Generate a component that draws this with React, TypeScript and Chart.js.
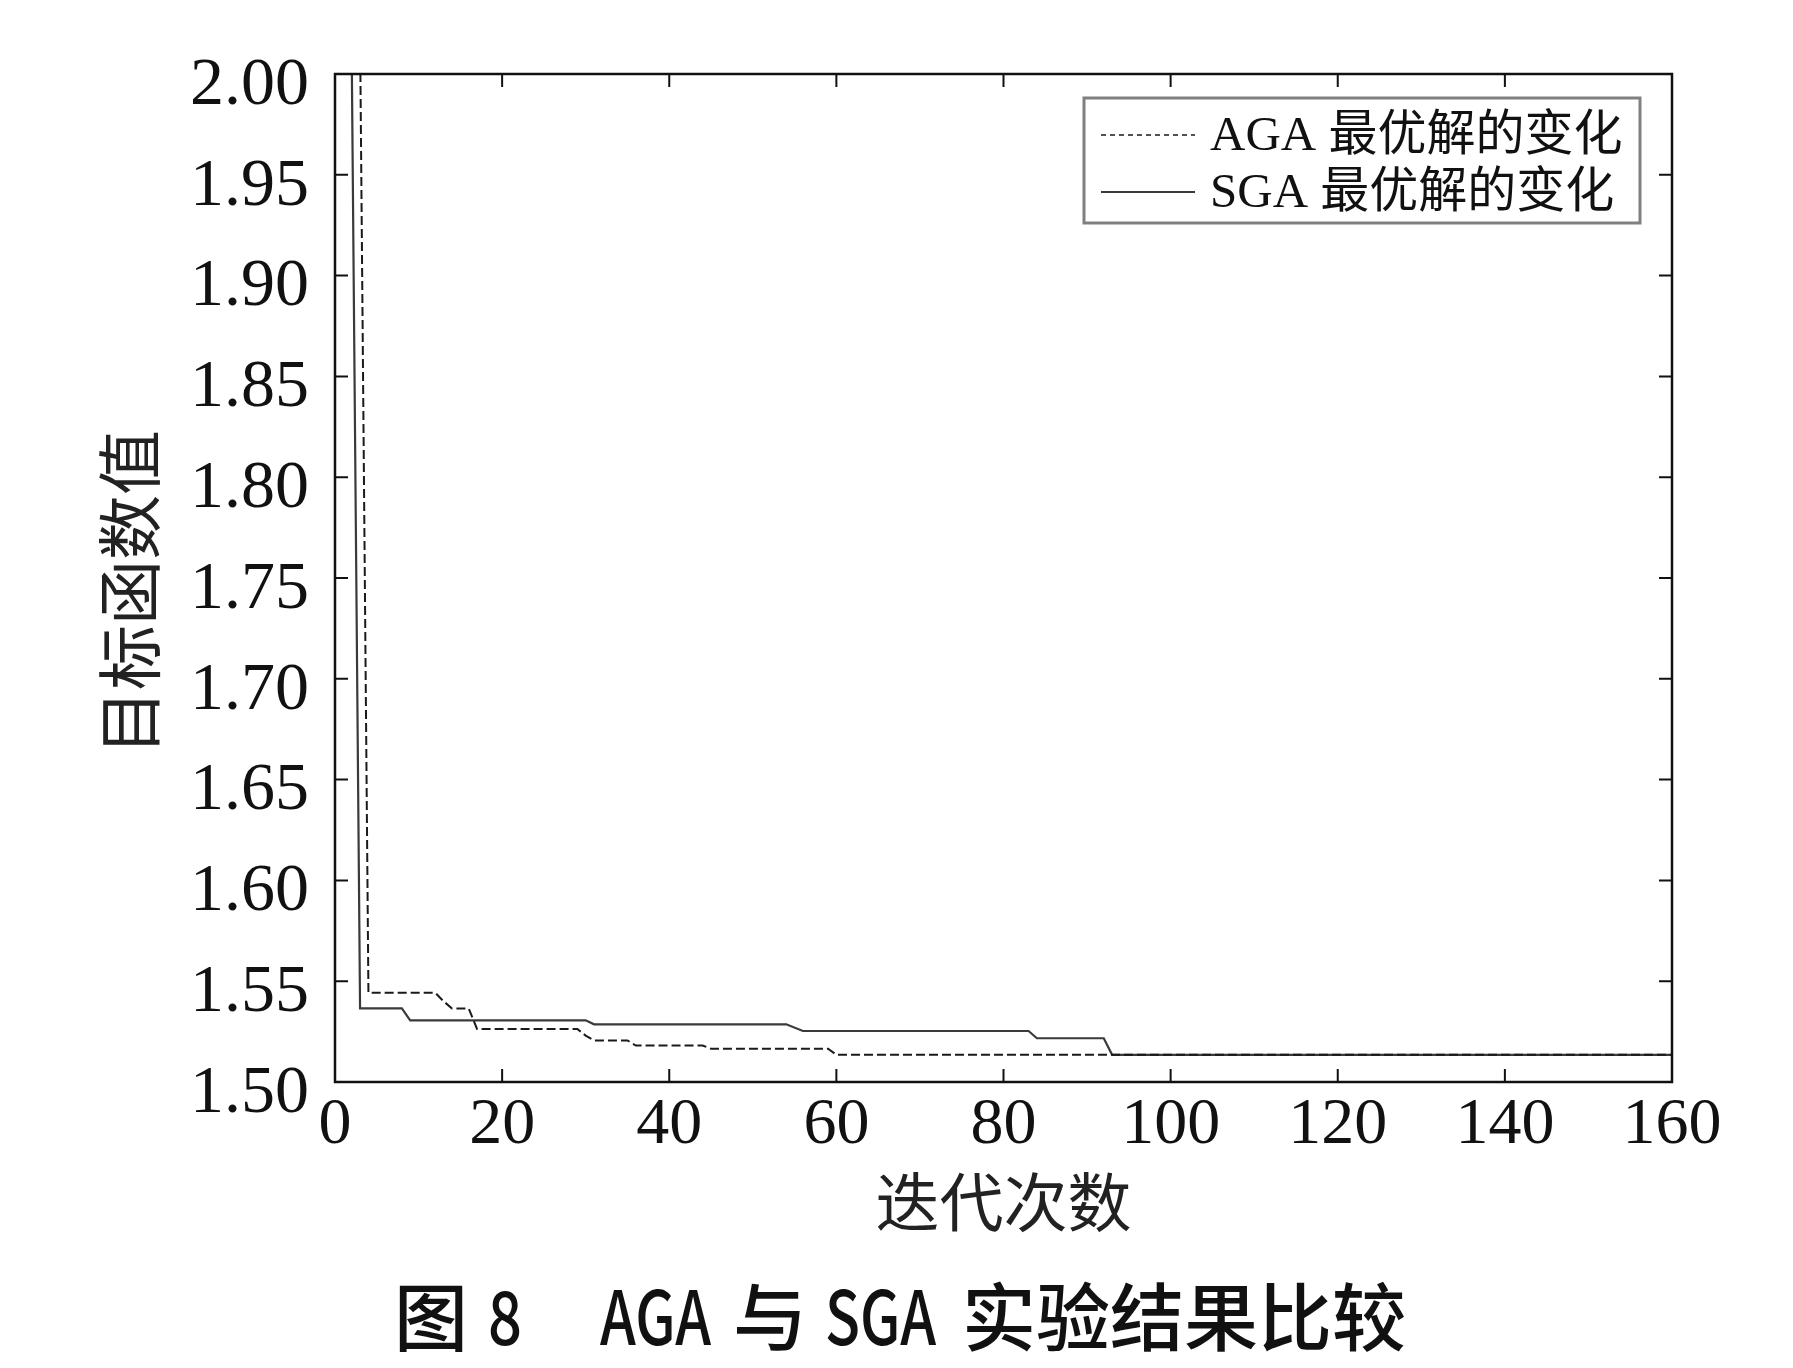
import React, { useEffect, useRef } from 'react';
import { Chart, registerables } from 'chart.js';

Chart.register(...registerables);

// ---- data ----
const sgaIter = [1, 2, 3, 8, 9, 30, 31, 54, 56, 83, 84, 92, 93, 160];
const sgaValue = [3.0, 2.01, 1.5365, 1.5365, 1.5306, 1.5306, 1.5286, 1.5286, 1.5253, 1.5253, 1.5217, 1.5217, 1.5135, 1.5135];

const agaIter = [2, 3, 4, 12, 13, 14, 16, 17, 29, 30, 31, 35, 36, 44, 45, 59, 60, 160];
const agaValue = [3.0, 2.02, 1.5443, 1.5443, 1.54, 1.5365, 1.5365, 1.5263, 1.5263, 1.523, 1.5206, 1.5206, 1.5181, 1.5181, 1.5165, 1.5165, 1.5135, 1.5135];

const xTicks = [0, 20, 40, 60, 80, 100, 120, 140, 160];
const xTickLabels = ['0', '20', '40', '60', '80', '100', '120', '140', '160'];
const yTicks = [1.5, 1.55, 1.6, 1.65, 1.7, 1.75, 1.8, 1.85, 1.9, 1.95, 2.0];
const yTickLabels = ['1.50', '1.55', '1.60', '1.65', '1.70', '1.75', '1.80', '1.85', '1.90', '1.95', '2.00'];

const seriesLabels = ['AGA 最优解的变化', 'SGA 最优解的变化'];
const xTitle = '迭代次数';
const yTitle = '目标函数值';
const captionParts = ['图', '8', 'AGA', '与', 'SGA', '实验结果比较'];

const W = 1793;
const H = 1368;

const frameAndTicks = {
  id: 'frameAndTicks',
  afterDatasetsDraw(chart: any) {
    const { ctx, chartArea } = chart;
    const { left, right, top, bottom } = chartArea;
    const xs = chart.scales.x;
    const ys = chart.scales.y;
    const tl = 13;
    ctx.save();
    ctx.strokeStyle = '#111';
    ctx.lineWidth = 2;
    ctx.beginPath();
    xs.ticks.forEach((t: any) => {
      const px = xs.getPixelForValue(t.value);
      if (Math.abs(px - left) < 2 || Math.abs(px - right) < 2) return;
      ctx.moveTo(px, bottom);
      ctx.lineTo(px, bottom - tl);
      ctx.moveTo(px, top);
      ctx.lineTo(px, top + tl);
    });
    ys.ticks.forEach((t: any) => {
      const py = ys.getPixelForValue(t.value);
      if (Math.abs(py - top) < 2 || Math.abs(py - bottom) < 2) return;
      ctx.moveTo(left, py);
      ctx.lineTo(left + tl, py);
      ctx.moveTo(right, py);
      ctx.lineTo(right - tl, py);
    });
    ctx.stroke();
    ctx.lineWidth = 2.5;
    ctx.strokeRect(left, top, right - left, bottom - top);
    ctx.restore();
  },
};

const legendBox = {
  id: 'legendBox',
  afterDraw(chart: any) {
    const { ctx } = chart;
    const bx = 1084, by = 98, bw = 556, bh = 125;
    ctx.save();
    ctx.fillStyle = '#fff';
    ctx.fillRect(bx, by, bw, bh);
    ctx.strokeStyle = '#808080';
    ctx.lineWidth = 3;
    ctx.strokeRect(bx, by, bw, bh);
    const rows = [135, 192];
    chart.data.datasets.forEach((ds: any, i: number) => {
      const y = rows[i];
      ctx.beginPath();
      ctx.strokeStyle = ds.borderColor;
      ctx.lineWidth = i === 0 ? 1.5 : 1.8;
      ctx.setLineDash(i === 0 ? [5, 4] : []);
      ctx.moveTo(1101, y);
      ctx.lineTo(1195, y);
      ctx.stroke();
      ctx.setLineDash([]);
      ctx.fillStyle = '#111';
      ctx.font = "49px 'Liberation Serif', 'Noto Sans CJK SC'";
      ctx.textBaseline = 'middle';
      ctx.textAlign = 'left';
      ctx.fillText(ds.label, 1210, y + 2);
    });
    ctx.restore();
  },
};

const caption = {
  id: 'caption',
  afterDraw(chart: any) {
    const { ctx } = chart;
    const cy = 1317;
    // [x, target width (0 = natural)]
    const layout: [number, number][] = [
      [394, 0],
      [488, 34],
      [600, 111],
      [733, 0],
      [825, 111],
      [962, 0],
    ];
    ctx.save();
    ctx.fillStyle = '#111';
    ctx.font = "500 74px 'Noto Sans CJK SC'";
    ctx.textBaseline = 'middle';
    ctx.textAlign = 'left';
    captionParts.forEach((txt, i) => {
      const [x, w] = layout[i];
      if (w > 0) {
        const m = ctx.measureText(txt).width;
        ctx.save();
        ctx.translate(x, cy);
        ctx.scale(w / m, 1);
        ctx.fillText(txt, 0, 0);
        ctx.restore();
      } else {
        ctx.fillText(txt, x, cy);
      }
    });
    ctx.restore();
  },
};

export default function App() {
  const ref = useRef<HTMLCanvasElement | null>(null);

  useEffect(() => {
    if (!ref.current) return;
    const chart = new Chart(ref.current, {
      type: 'line',
      data: {
        datasets: [
          {
            label: seriesLabels[0],
            data: agaIter.map((x, i) => ({ x, y: agaValue[i] })),
            borderColor: '#1a1a1a',
            borderWidth: 2,
            borderDash: [9, 4],
            pointRadius: 0,
            tension: 0,
            fill: false,
          },
          {
            label: seriesLabels[1],
            data: sgaIter.map((x, i) => ({ x, y: sgaValue[i] })),
            borderColor: '#3a3a3a',
            borderWidth: 2.2,
            pointRadius: 0,
            tension: 0,
            fill: false,
          },
        ],
      },
      options: {
        responsive: false,
        devicePixelRatio: 1,
        animation: false,
        layout: { padding: { left: 0, right: 121, top: 74, bottom: 128 } },
        plugins: { legend: { display: false }, tooltip: { enabled: false } },
        scales: {
          x: {
            type: 'linear',
            min: 0,
            max: 160,
            grid: { display: false, drawTicks: false },
            border: { display: false },
            afterBuildTicks: (scale: any) => {
              scale.ticks = xTicks.map((v) => ({ value: v }));
            },
            afterFit: (scale: any) => {
              scale.height = 158;
            },
            ticks: {
              autoSkip: false,
              maxRotation: 0,
              padding: 4,
              color: '#111',
              font: { family: "'Liberation Serif'", size: 66 },
              callback: (_v: any, i: number) => xTickLabels[i],
            },
            title: {
              display: true,
              text: xTitle,
              color: '#222',
              padding: 0,
              font: { family: "'Noto Sans CJK SC'", size: 64, weight: 'normal' },
            },
          },
          y: {
            type: 'linear',
            min: 1.5,
            max: 2.0,
            grid: { display: false, drawTicks: false },
            border: { display: false },
            afterBuildTicks: (scale: any) => {
              scale.ticks = yTicks.map((v) => ({ value: v }));
            },
            afterFit: (scale: any) => {
              scale.width = 335;
            },
            ticks: {
              autoSkip: false,
              padding: 26,
              labelOffset: 12,
              color: '#111',
              font: { family: "'Liberation Serif'", size: 68 },
              callback: (_v: any, i: number) => yTickLabels[i],
            },
            title: {
              display: true,
              text: yTitle + '  ',
              color: '#222',
              padding: { top: 90, bottom: 0 },
              font: { family: "'Noto Sans CJK SC'", size: 65, weight: 'normal' },
            },
          },
        },
      },
      plugins: [frameAndTicks, legendBox, caption],
    });
    return () => chart.destroy();
  }, []);

  return (
    <div style={{ position: 'absolute', left: 0, top: 0, width: W, height: H, background: '#fff' }}>
      <canvas ref={ref} width={W} height={H} style={{ display: 'block' }} />
    </div>
  );
}
